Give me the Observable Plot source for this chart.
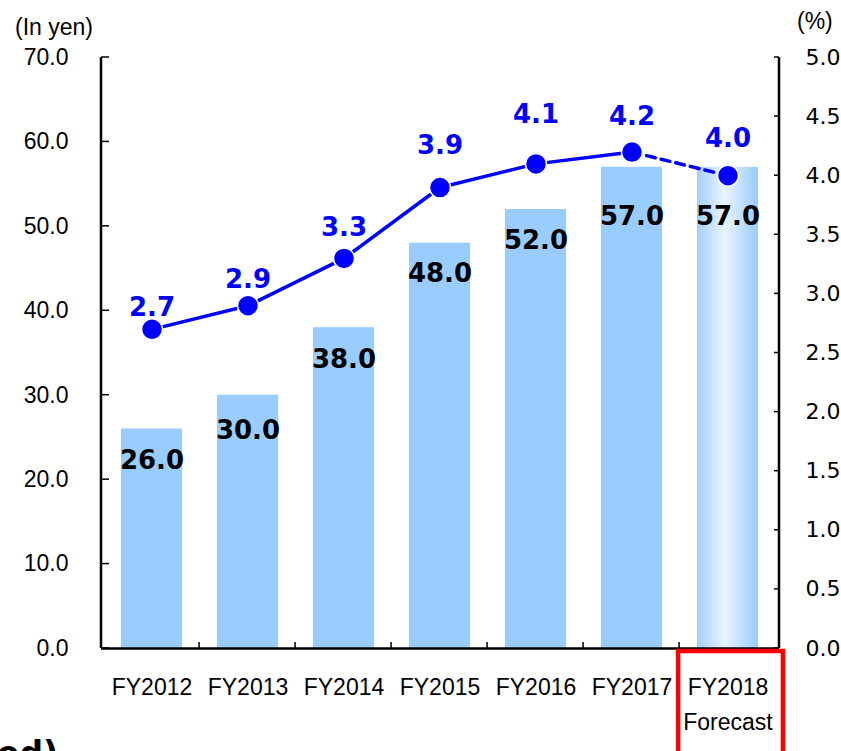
<!DOCTYPE html>
<html>
<head>
<meta charset="utf-8">
<script src="https://cdn.jsdelivr.net/npm/d3@7"></script>
<script src="https://cdn.jsdelivr.net/npm/@observablehq/plot@0.6"></script>
<style>
  html, body { margin: 0; padding: 0; background: #fff; overflow: hidden; }
  #wrap { position: relative; width: 841px; height: 751px; overflow: hidden; }
  #wrap svg { position: absolute; left: 0; top: 0; }
  .lbl { position: absolute; white-space: nowrap; color: #000; }
</style>
</head>
<body>
<div id="wrap">
  <div class="lbl" style="left:15px; top:14px; font: 23px 'Liberation Sans', sans-serif;">(In yen)</div>
  <div class="lbl" style="left:797px; top:8px; font: 23px 'Liberation Sans', sans-serif;">(%)</div>
  <div class="lbl" style="left:-3px; top:734px; font: bold 33px 'DejaVu Sans', sans-serif;">ed)</div>
</div>
<script>
// ---- data ----
const years = ["FY2012", "FY2013", "FY2014", "FY2015", "FY2016", "FY2017", "FY2018"];
const dividends = [26.0, 30.0, 38.0, 48.0, 52.0, 57.0, 57.0];      // In yen (bars)
const payout = [2.7, 2.9, 3.3, 3.9, 4.1, 4.2, 4.0];                 // % (line)
const forecastYear = "FY2018";
const yenTicks = [0, 10, 20, 30, 40, 50, 60, 70];
const pctTicks = [0, 0.5, 1.0, 1.5, 2.0, 2.5, 3.0, 3.5, 4.0, 4.5, 5.0];

// ---- label styling offsets (pixels) ----
const barLabelDy = [32, 35, 32, 30, 31, 49, 49];
const pctLabelDy = [-22, -26, -31, -42, -49, -35, -37];

const rows = years.map((fy, i) => ({fy, dps: dividends[i], pct: payout[i]}));
const pctToYen = d3.scaleLinear([0, 5], [0, 70]);

const actualRows = rows.filter(d => d.fy !== forecastYear);
const forecastRows = rows.filter(d => d.fy === forecastYear);
const dashedRows = rows.slice(rows.length - 2);

const BLUE = "#0000FF";
const BAR = "#99CCFF";

const chart = Plot.plot({
  width: 841,
  height: 751,
  marginLeft: 101,
  marginRight: 62,
  marginTop: 57,
  marginBottom: 103,
  style: {background: "transparent", overflow: "visible", fontFamily: "'Liberation Sans', sans-serif"},
  x: {domain: years, paddingInner: 0.36, paddingOuter: 0.18, axis: null},
  y: {domain: [0, 70], axis: null},
  marks: [
    Plot.barY(actualRows, {x: "fy", y: "dps", fill: BAR}),
    Plot.barY(forecastRows, {x: "fy", y: "dps", fill: "url(#fcGrad)"}),
    Plot.axisX({
      label: null,
      tickSize: 0,
      tickPadding: 21,
      fontSize: 23,
      fontFamily: "'Liberation Sans', sans-serif",
      lineHeight: 1.55,
      fill: "#000",
      tickFormat: d => d === forecastYear ? d + "\nForecast" : d
    }),
    Plot.axisY(yenTicks, {
      anchor: "left",
      label: null,
      tickSize: 0,
      tickPadding: 33,
      fontSize: 23,
      fontFamily: "'Liberation Sans', sans-serif",
      fill: "#000",
      tickFormat: d => d.toFixed(1)
    }),
    Plot.axisY(pctTicks.map(p => pctToYen(p)), {
      anchor: "right",
      label: null,
      tickSize: 0,
      tickPadding: 26,
      fontSize: 22,
      fontFamily: "'DejaVu Sans', sans-serif",
      fill: "#000",
      tickFormat: d => pctToYen.invert(d).toFixed(1)
    }),
    Plot.ruleY([0], {stroke: "#000", strokeWidth: 2.5}),
    Plot.line(actualRows, {x: "fy", y: d => pctToYen(d.pct), stroke: BLUE, strokeWidth: 3.5}),
    Plot.line(dashedRows, {x: "fy", y: d => pctToYen(d.pct), stroke: BLUE, strokeWidth: 3.5, strokeDasharray: "9,6"}),
    Plot.dot(rows, {x: "fy", y: d => pctToYen(d.pct), r: 10.5, fill: BLUE, stroke: "#fff", strokeWidth: 1.5}),
    ...rows.map((d, i) => Plot.text([d], {
      x: "fy", y: "dps", text: r => r.dps.toFixed(1), dy: barLabelDy[i],
      fontSize: 26, fontWeight: "bold", fontFamily: "'DejaVu Sans', sans-serif", fill: "#000"
    })),
    ...rows.map((d, i) => Plot.text([d], {
      x: "fy", y: r => pctToYen(r.pct), text: r => r.pct.toFixed(1), dy: pctLabelDy[i],
      fontSize: 26, fontWeight: "bold", fontFamily: "'DejaVu Sans', sans-serif", fill: BLUE
    }))
  ]
});

document.getElementById("wrap").insertBefore(chart, document.getElementById("wrap").firstChild);

// gradient for the forecast bar
const svg = d3.select(chart);
const defs = svg.insert("defs", ":first-child");
const grad = defs.append("linearGradient").attr("id", "fcGrad").attr("x1", "0%").attr("x2", "100%").attr("y1", "0%").attr("y2", "0%");
grad.append("stop").attr("offset", "0%").attr("stop-color", "#a3cffb");
grad.append("stop").attr("offset", "45%").attr("stop-color", "#eaf4ff");
grad.append("stop").attr("offset", "100%").attr("stop-color", "#99ccff");

// axis lines, inward ticks and the forecast box, placed with the chart's scales
const xs = chart.scale("x");
const ys = chart.scale("y");
const [x0, x1] = xs.range;
const yBase = ys.apply(0);
const yTop = ys.apply(70);
const step = (x1 - x0) / years.length;
const g = svg.append("g").attr("stroke", "#000").attr("fill", "none");
g.append("line").attr("x1", x0).attr("x2", x0).attr("y1", yTop).attr("y2", yBase).attr("stroke-width", 2.5);
g.append("line").attr("x1", x1).attr("x2", x1).attr("y1", yTop).attr("y2", yBase).attr("stroke-width", 2.5);
yenTicks.forEach(t => {
  const y = ys.apply(t);
  g.append("line").attr("x1", x0).attr("x2", x0 + 8).attr("y1", y).attr("y2", y).attr("stroke-width", 1.5);
});
pctTicks.forEach(p => {
  const y = ys.apply(pctToYen(p));
  g.append("line").attr("x1", x1 - 5).attr("x2", x1).attr("y1", y).attr("y2", y).attr("stroke-width", 1.5);
});
years.forEach((fy, i) => {
  if (i === 0) return;
  const bx = xs.apply(fy) - (step - xs.bandwidth) / 2;
  g.append("line").attr("x1", bx).attr("x2", bx).attr("y1", yBase).attr("y2", yBase - 6).attr("stroke-width", 1.5);
});
const fx = xs.apply(forecastYear) - (step - xs.bandwidth) / 2;
svg.append("rect")
  .attr("x", fx - 1).attr("y", yBase + 3)
  .attr("width", step + 8).attr("height", 120)
  .attr("fill", "none").attr("stroke", "#ff0000").attr("stroke-width", 4.5);
</script>
</body>
</html>
